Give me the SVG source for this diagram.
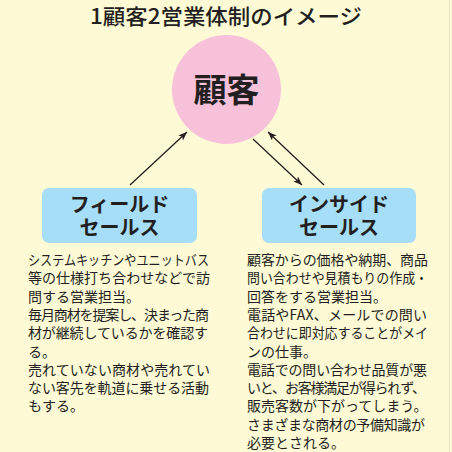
<svg xmlns="http://www.w3.org/2000/svg" width="452" height="452" viewBox="0 0 452 452">
<style>
.t{font-family:"Noto Sans CJK JP","Noto Sans CJK SC",sans-serif;fill:#231f20}
.title{font-size:21px;font-weight:500}
.box{font-size:20px;font-weight:700}
.body{font-size:14px}
.conn{stroke:#231f20;stroke-width:1.3;fill:none;marker-end:url(#ah)}
</style>
<defs>
<marker id="ah" viewBox="0 0 10 8" refX="10" refY="4" markerWidth="9" markerHeight="7" markerUnits="userSpaceOnUse" orient="auto">
<path d="M0,0 L10,4 L0,8 L2.5,4 Z" fill="#231f20"/>
</marker>
</defs>
<rect x="0" y="0" width="452" height="452" fill="#fefad6"/>
<line x1="449.5" y1="0" x2="449.5" y2="452" stroke="#e6e2c4" stroke-width="1"/>
<text class="t title" x="226" y="24" text-anchor="middle" textLength="272" lengthAdjust="spacingAndGlyphs">1顧客2営業体制のイメージ</text>

<g id="connectors">
<line class="conn" x1="130" y1="185" x2="187" y2="132"/>
<line class="conn" x1="253" y1="139" x2="302" y2="185"/>
<line class="conn" x1="324" y1="185" x2="268" y2="132"/>
</g>

<g id="customer">
<circle cx="226.5" cy="89.5" r="54.5" fill="#f7c1da"/>
<text class="t" x="226.5" y="102" text-anchor="middle" font-size="33" font-weight="700">顧客</text>
</g>

<g id="field-sales">
<rect x="42" y="188" width="155" height="55" rx="7" fill="#a6ddf7"/>
<text class="t box" text-anchor="middle"><tspan x="119.5" y="212">フィールド</tspan><tspan x="119.5" y="235">セールス</tspan></text>
</g>

<g id="inside-sales">
<rect x="262" y="188" width="154" height="55" rx="7" fill="#a6ddf7"/>
<text class="t box" text-anchor="middle"><tspan x="339" y="212">インサイド</tspan><tspan x="339" y="235">セールス</tspan></text>
</g>

<g id="field-desc" class="t body">
<text x="28" y="265" textLength="181" lengthAdjust="spacingAndGlyphs">システムキッチンやユニットバス</text>
<text x="28" y="283.3" textLength="182" lengthAdjust="spacing">等の仕様打ち合わせなどで訪</text>
<text x="28" y="301.6">問する営業担当。</text>
<text x="28" y="319.9" textLength="181" lengthAdjust="spacing">毎月商材を提案し、決まった商</text>
<text x="28" y="338.2" textLength="180" lengthAdjust="spacing">材が継続しているかを確認す</text>
<text x="28" y="356.5">る。</text>
<text x="28" y="374.8" textLength="182" lengthAdjust="spacing">売れていない商材や売れてい</text>
<text x="28" y="393.1" textLength="181" lengthAdjust="spacing">ない客先を軌道に乗せる活動</text>
<text x="28" y="411.4">もする。</text>
</g>

<g id="inside-desc" class="t body">
<text x="247" y="265" textLength="181" lengthAdjust="spacing">顧客からの価格や納期、商品</text>
<text x="247" y="283.3" textLength="181" lengthAdjust="spacingAndGlyphs">問い合わせや見積もりの作成・</text>
<text x="247" y="301.6">回答をする営業担当。</text>
<text x="247" y="319.9" textLength="180" lengthAdjust="spacing">電話やFAX、メールでの問い</text>
<text x="247" y="338.2" textLength="181" lengthAdjust="spacingAndGlyphs">合わせに即対応することがメイ</text>
<text x="247" y="356.5">ンの仕事。</text>
<text x="247" y="374.8" textLength="180" lengthAdjust="spacing">電話での問い合わせ品質が悪</text>
<text x="247" y="393.1" textLength="179" lengthAdjust="spacing">いと、お客様満足が得られず、</text>
<text x="247" y="411.4">販売客数が下がってしまう。</text>
<text x="247" y="429.7" textLength="178" lengthAdjust="spacing">さまざまな商材の予備知識が</text>
<text x="247" y="448">必要とされる。</text>
</g>
</svg>
